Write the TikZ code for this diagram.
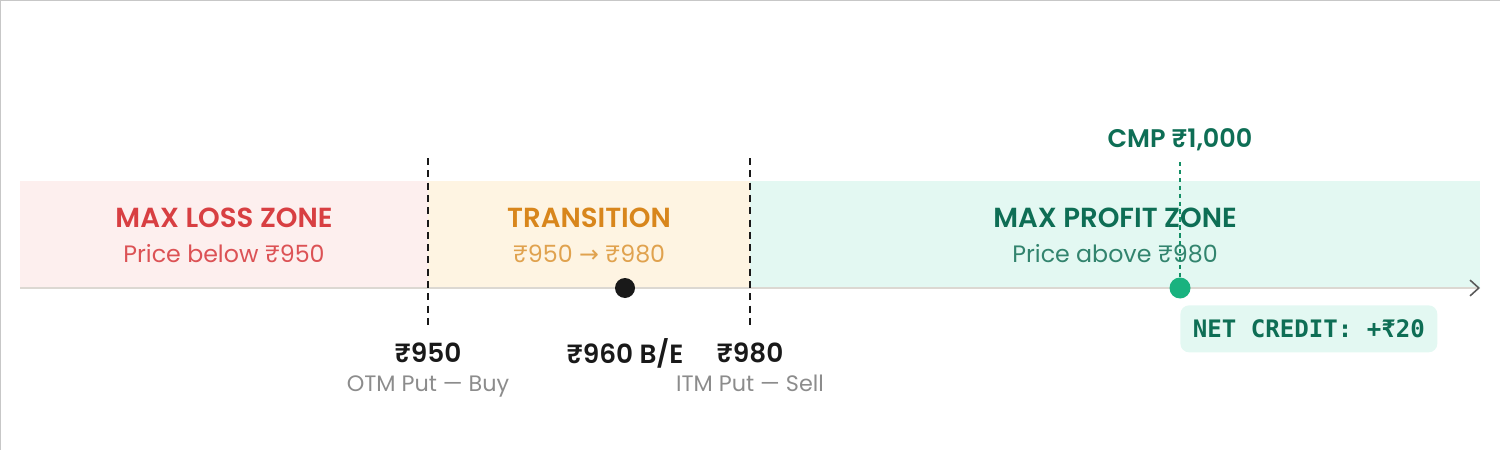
\documentclass[tikz,border=0pt]{standalone}
\usepackage{fontspec}
\setmainfont{Poppins}[BoldFont={Poppins SemiBold}]
\setmonofont{DejaVu Sans Mono}
\newfontfamily\arrowfont{DejaVu Sans}
\usepackage{tikz}
\usetikzlibrary{positioning,arrows.meta}
\definecolor{lossbg}{HTML}{FDEFEE}
\definecolor{lossfg}{HTML}{D83F42}
\definecolor{transbg}{HTML}{FEF4E2}
\definecolor{transfg}{HTML}{D8861C}
\definecolor{transsub}{HTML}{E0A24E}
\definecolor{profbg}{HTML}{E3F8F2}
\definecolor{proffg}{HTML}{0E6E55}
\definecolor{cmpgreen}{HTML}{19B27F}
\definecolor{axisgray}{HTML}{DCD8D2}
\definecolor{notegray}{HTML}{8C8C8C}
\tikzset{
zone/.style={fill, inner sep=0pt, minimum height=2.14cm, anchor=south west}, % the coloured bands
title/.style={font=\fontsize{15.7}{18}\selectfont\bfseries}, % zone headings
sub/.style={font=\fontsize{13.5}{16}\selectfont}, % zone sub-headings
strike/.style={font=\fontsize{15}{18}\selectfont\bfseries, text=black!90}, % strike prices
note/.style={font=\fontsize{12.7}{15}\selectfont, text=notegray}, % small grey notes
marker/.style={draw=black!90, dash pattern=on 4pt off 3pt, line width=1.6pt}, % strike lines
}
\begin{document}
\begin{tikzpicture}
\useasboundingbox (0,0) rectangle (30,9);
\draw[black!22, line width=1.2pt] (0,0) -- (0,9) -- (30,9);
% zones
\node[zone, fill=lossbg, minimum width=8.16cm] (loss) at (0.4,3.24) {};
\node[zone, fill=transbg, minimum width=6.44cm] (trans) at (8.56,3.24) {};
\node[zone, fill=profbg, minimum width=14.6cm] (prof) at (15,3.24) {};
\node[title, text=lossfg] (losst) at (4.48,4.64) {MAX LOSS ZONE};
\node[sub, text=lossfg!90] (losss) at (4.48,3.92) {Price below ₹950};
\node[title, text=transfg] (transt) at (11.78,4.64) {TRANSITION};
\node[sub, text=transsub] (transs) at (11.78,3.92) {₹950 {\arrowfont →} ₹980};
\node[title, text=proffg] (proft) at (22.3,4.64) {MAX PROFIT ZONE};
\node[sub, text=proffg!85] (profs) at (22.3,3.92) {Price above ₹980};
% axis
\coordinate (axL) at (0.4,3.24);
\coordinate (axR) at (29.6,3.24);
\draw[axisgray, line width=1.3pt, -{Straight Barb[length=5pt, width=9pt, color=black!65, line width=0.9pt]}] (axL) -- (axR);
% strikes
\coordinate (k1t) at (8.56,5.84);
\coordinate (k1b) at (8.56,2.4);
\coordinate (k2t) at (15,5.84);
\coordinate (k2b) at (15,2.4);
\draw[marker] (k1t) -- (k1b);
\draw[marker] (k2t) -- (k2b);
\node[strike] (k1) at (8.56,1.94) {₹950};
\node[note, below=0pt of k1] (k1n) {OTM Put — Buy};
\node[strike] (k2) at (15,1.94) {₹980};
\node[note, below=0pt of k2] (k2n) {ITM Put — Sell};
% break-even
\node[circle, fill=black!90, minimum size=0.4cm, inner sep=0pt] (be) at (12.5,3.24) {};
\node[strike] (bel) at (12.5,1.94) {₹960 B/E};
% current price
\node[circle, fill=cmpgreen, minimum size=0.42cm, inner sep=0pt] (cmp) at (23.6,3.24) {};
\node[title, font=\fontsize{14.5}{17}\selectfont\bfseries, text=proffg] (cmpl) at (23.6,6.2) {CMP ₹1,000};
\coordinate (cmpt) at (23.6,5.76);
\draw[cmpgreen!80!black, line width=0.6pt, dash pattern=on 2.5pt off 2pt] (cmpt) -- (cmp);
\node[fill=profbg, rounded corners=5pt, minimum width=5.14cm, minimum height=0.94cm, anchor=north west,
  font=\ttfamily\bfseries\fontsize{13.7}{16}\selectfont, text=proffg] (net) at (23.6,2.9) {NET CREDIT: +₹20};
\end{tikzpicture}
\end{document}
